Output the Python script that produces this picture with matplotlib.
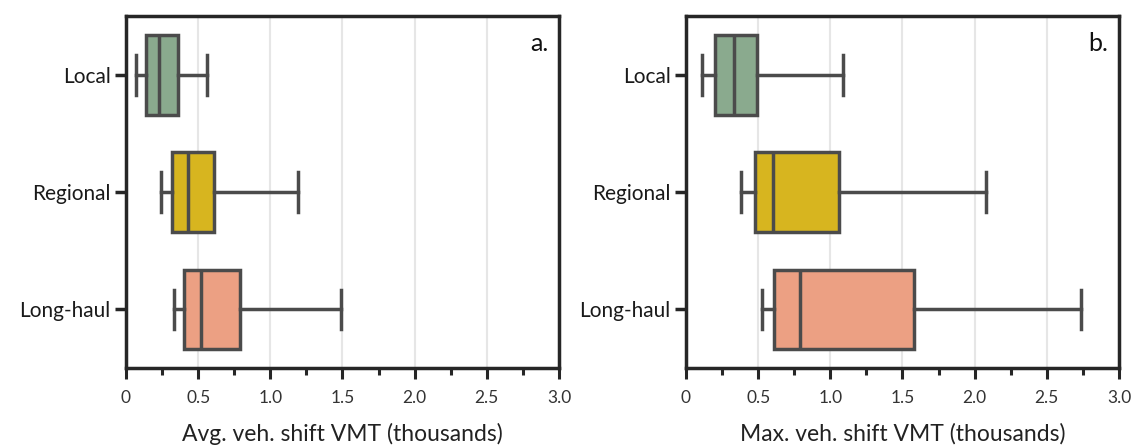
import matplotlib
matplotlib.use('Agg')
import matplotlib.pyplot as plt
from matplotlib.ticker import MultipleLocator

plt.rcParams['font.family'] = ['Lato', 'DejaVu Sans']

categories = ['Local', 'Regional', 'Long-haul']
colors = ['#8aaa8e', '#d7b51f', '#eca083']

# (whisker low, q1, median, q3, whisker high), thousands of VMT
avg_stats = [
    [0.07, 0.14, 0.23, 0.36, 0.56],
    [0.24, 0.32, 0.43, 0.61, 1.19],
    [0.33, 0.40, 0.52, 0.79, 1.49],
]
max_stats = [
    [0.11, 0.20, 0.33, 0.49, 1.09],
    [0.38, 0.48, 0.60, 1.06, 2.08],
    [0.53, 0.61, 0.79, 1.58, 2.74],
]

xticks = [0, 0.5, 1.0, 1.5, 2.0, 2.5, 3.0]
xticklabels = ['0', '0.5', '1.0', '1.5', '2.0', '2.5', '3.0']
xlabels = ['Avg. veh. shift VMT (thousands)', 'Max. veh. shift VMT (thousands)']
panel_labels = ['a.', 'b.']

edge = '#4b4b4b'
spine_c = '#262626'


def draw_panel(ax, stats, xlabel, panel):
    bstats = []
    for name, s in zip(categories, stats):
        bstats.append({'label': name, 'whislo': s[0], 'q1': s[1], 'med': s[2],
                       'q3': s[3], 'whishi': s[4], 'fliers': []})
    bp = ax.bxp(bstats, positions=range(len(categories)), widths=0.68, vert=False,
                patch_artist=True, showfliers=False,
                boxprops=dict(edgecolor=edge, linewidth=2.5),
                medianprops=dict(color=edge, linewidth=2.5),
                whiskerprops=dict(color=edge, linewidth=2.5),
                capprops=dict(color=edge, linewidth=2.5),
                zorder=3)
    for patch, c in zip(bp['boxes'], colors):
        patch.set_facecolor(c)

    ax.set_ylim(2.5, -0.5)
    ax.set_yticks(range(len(categories)))
    ax.set_yticklabels(categories, fontsize=15, color='#1a1a1a')
    ax.set_xticks(xticks)
    ax.set_xticklabels(xticklabels, fontsize=12.5, color='#333333')
    ax.xaxis.set_minor_locator(MultipleLocator(0.25))
    ax.set_xlim(0, 3.0)
    ax.grid(axis='x', which='major', color='#e6e6e6', linewidth=1.5, zorder=0)
    ax.set_axisbelow(True)
    ax.tick_params(axis='x', which='major', length=8, width=2.2, color=spine_c, pad=8)
    ax.tick_params(axis='x', which='minor', length=5, width=2.2, color=spine_c)
    ax.tick_params(axis='y', length=8, width=2.5, color=spine_c, pad=3)
    for sp in ax.spines.values():
        sp.set_linewidth(2.5)
        sp.set_color(spine_c)
    ax.set_xlabel(xlabel, fontsize=16.5, labelpad=12, color='#222222')
    ax.text(0.975, 0.955, panel, transform=ax.transAxes, ha='right', va='top',
            fontsize=18, color='#111111')


def main():
    fig = plt.figure(figsize=(11.35, 4.45), dpi=100)
    ax1 = fig.add_axes([0.111, 0.173, 0.3815, 0.79])
    ax2 = fig.add_axes([0.6044, 0.173, 0.3815, 0.79])
    draw_panel(ax1, avg_stats, xlabels[0], panel_labels[0])
    draw_panel(ax2, max_stats, xlabels[1], panel_labels[1])
    fig.savefig('out.png', dpi=100)


if __name__ == '__main__':
    main()
